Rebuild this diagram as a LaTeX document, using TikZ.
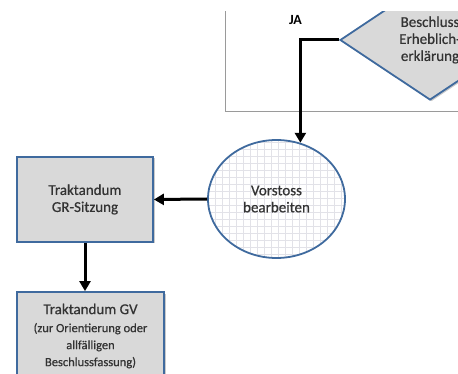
\documentclass[tikz,border=0pt]{standalone}
\usepackage{fontspec}
\setmainfont{Carlito}
\newfontfamily\medfont{Carlito}[FakeBold=0.6]
\usetikzlibrary{shapes.geometric,arrows.meta,shadows}
\definecolor{bordblue}{HTML}{3F6A9E}
\definecolor{boxfill}{HTML}{D9D9D9}
\definecolor{txtgray}{HTML}{333333}
\definecolor{gridcol}{HTML}{E2E2E8}
\definecolor{panelgray}{HTML}{9A9A9A}
\newcommand{\smalltxt}{\fontsize{12.5}{12.5}\selectfont}
\tikzset{
  shad/.style={drop shadow={shadow xshift=1.5pt,shadow yshift=-1.5pt,opacity=0.35,fill=black!60}},
  boxnode/.style={draw=bordblue,line width=1.8pt,fill=boxfill,shad,align=center,
    text=txtgray,font=\medfont\fontsize{15}{17}\selectfont,inner sep=0pt},
  conn/.style={line width=3pt,draw=black,-{Triangle[length=10pt,width=11pt]}},
  panel/.style={draw=panelgray,line width=1pt}
}
\begin{document}
\begin{tikzpicture}[x=1pt,y=-1pt]
\useasboundingbox (0,0) rectangle (458,374);
\clip (0,12) rectangle (458,374);
% panel
\draw[panel] (225,0) -- (225,112) -- (470,112);
% diamond
\node[boxnode,diamond,shape aspect=1.5,minimum width=180pt,minimum height=120pt] (dia) at (430,40)
  {Beschluss\\Erheblich-\\erklärung};
% ellipse
\node[ellipse,draw=bordblue,line width=1.8pt,fill=white,minimum width=137pt,minimum height=118pt,
  align=center,text=txtgray,font=\medfont\fontsize{15}{17}\selectfont,
  path picture={\draw[gridcol,line width=0.6pt,step=7pt] (path picture bounding box.south west) grid (path picture bounding box.north east);}]
  (ell) at (276.5,199) {Vorstoss\\bearbeiten};
% rectangles
\node[boxnode,rectangle,minimum width=136pt,minimum height=85pt] (r1) at (85,199.5) {Traktandum\\GR-Sitzung};
\node[boxnode,rectangle,minimum width=147pt,minimum height=88pt] (r2) at (90.5,336)
  {Traktandum GV\\[1pt]\smalltxt (zur Orientierung oder\\\smalltxt allfälligen\\\smalltxt Beschlussfassung)};
% JA
\node[font=\bfseries\fontsize{14}{14}\selectfont] (ja) at (295.5,20.5) {JA};
% connectors
\draw[conn] (dia.west) -| (ell.67);
\draw[conn] (ell.west) -- (r1.east);
\draw[conn] (r1.south) -- (r1.south |- r2.north);
\end{tikzpicture}
\end{document}
